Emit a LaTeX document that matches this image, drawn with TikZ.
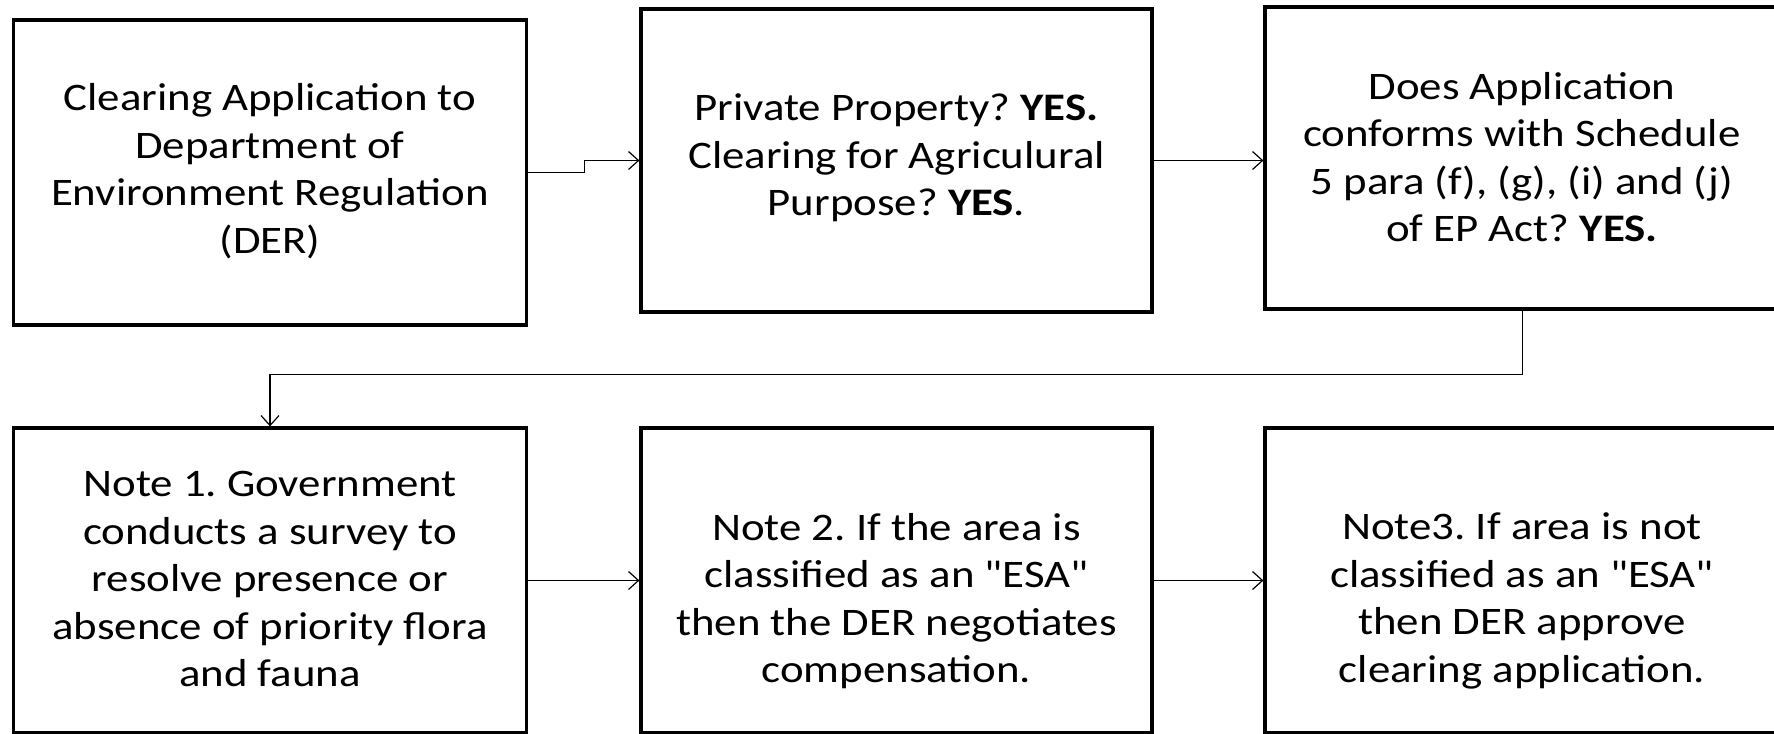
\documentclass[tikz,border=0pt]{standalone}
\usepackage{fontspec}
\setmainfont{Carlito}[FakeStretch=1.15, Ligatures=TeXOff]
\usetikzlibrary{arrows.meta}
\begin{document}
\frenchspacing
\begin{tikzpicture}[x=0.5pt,y=-0.5pt,
  box/.style={draw=black, line width=1.6pt, rectangle, inner sep=0pt},
  txt/.style={align=center, font=\fontsize{19.5}{23.75}\selectfont, inner sep=0pt},
  conn/.style={line width=0.6pt, -{Straight Barb[length=5pt,width=9pt]}}]
\useasboundingbox (0,0) rectangle (1774,734);
% boxes
\node[box, minimum width=256.5pt, minimum height=152.5pt] (b1) at (270,172.5) {};
\node[box, minimum width=255.5pt, minimum height=151.5pt] (b2) at (896.5,160.5) {};
\node[box, minimum width=257.5pt, minimum height=151pt] (b3) at (1522.5,158) {};
\node[box, minimum width=256.5pt, minimum height=152.5pt] (b4) at (270,580.5) {};
\node[box, minimum width=255.5pt, minimum height=152.5pt] (b5) at (896.5,580.5) {};
\node[box, minimum width=257.5pt, minimum height=152.5pt] (b6) at (1522.5,580.5) {};
% texts
\node[txt] (t1) at (270,171) {Clearing Application to\\Department of\\Environment Regulation\\(DER)};
\node[txt] (t2) at (896.5,158) {Private Property? \textbf{YES.}\\Clearing for Agriculural\\Purpose? \textbf{YES}.};
\node[txt] (t3) at (1522,157) {Does Application\\conforms with Schedule\\5 para (f), (g), (i) and (j)\\of EP Act? \textbf{YES.}};
\node[txt] (t4) at (270,579) {Note 1. Government\\conducts a survey to\\resolve presence or\\absence of priority flora\\and fauna};
\node[txt] (t5) at (896.5,601) {Note 2. If the area is\\classified as an "ESA"\\then the DER negotiates\\compensation.};
\node[txt] (t6) at (1522,601) {Note3. If area is not\\classified as an "ESA"\\then DER approve\\clearing application.};
% connectors
\draw[conn] (b1.east) -- ++(56,0) |- (b2.west);
\draw[conn] (b2.east) -- (b2.east -| b3.west);
\draw[conn] (b3.south) -- ++(0,64) -| (b4.north);
\draw[conn] (b4.east) -- (b4.east -| b5.west);
\draw[conn] (b5.east) -- (b5.east -| b6.west);
\end{tikzpicture}
\end{document}
